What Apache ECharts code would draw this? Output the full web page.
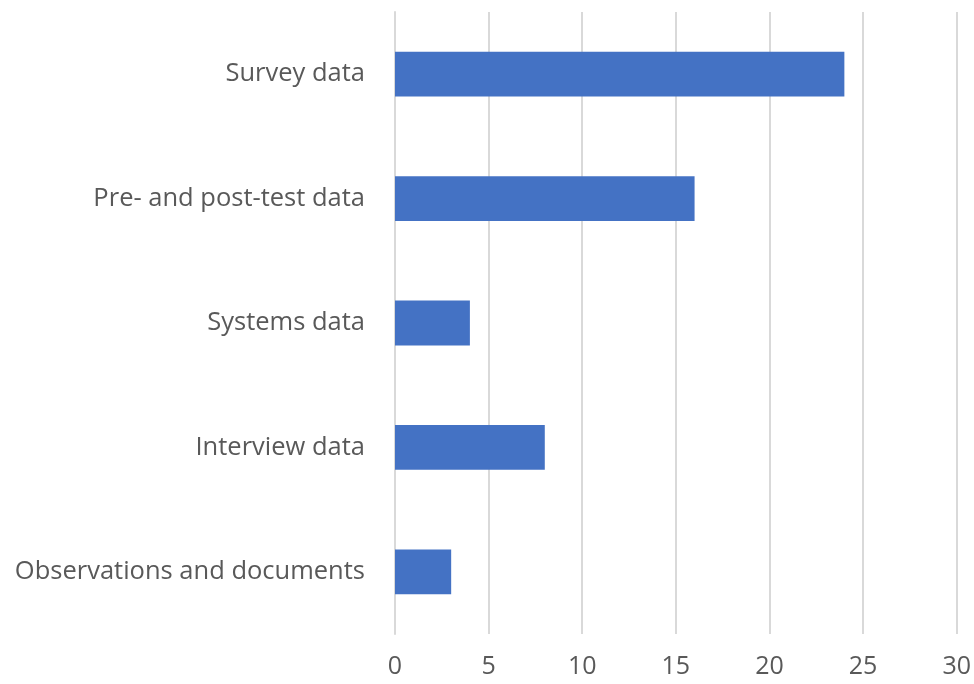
<!DOCTYPE html>
<html><head><meta charset="utf-8">
<script src="https://cdn.jsdelivr.net/npm/echarts@6/dist/echarts.min.js"></script>
<style>html,body{margin:0;padding:0;background:#fff}#c{width:974px;height:684px}</style>
</head><body><div id="c"></div>
<script>
const categories = ["Observations and documents", "Interview data", "Systems data", "Pre- and post-test data", "Survey data"];
const values = [3, 8, 4, 16, 24];
const xTicks = { min: 0, max: 30, interval: 5 };

const chart = echarts.init(document.getElementById('c'));
chart.setOption({
  animation: false,
  grid: { left: 395, right: 15, top: 12, bottom: 50, containLabel: false },
  xAxis: {
    type: 'value', min: xTicks.min, max: xTicks.max, interval: xTicks.interval,
    axisLine: { show: false }, axisTick: { show: false },
    splitLine: { show: true, lineStyle: { color: '#d9d9d9', width: 2 } },
    axisLabel: { color: '#595959', fontSize: 25, fontFamily: 'Open Sans', margin: 20 }
  },
  yAxis: {
    type: 'category', data: categories,
    axisLine: { show: true, lineStyle: { color: '#d9d9d9', width: 2 } },
    axisTick: { show: false },
    axisLabel: { color: '#595959', fontSize: 25.5, fontFamily: 'Open Sans', margin: 30 }
  },
  series: [{
    type: 'bar', data: values, barCategoryGap: '64%',
    itemStyle: { color: '#4472c4' }
  }]
});
</script></body></html>
